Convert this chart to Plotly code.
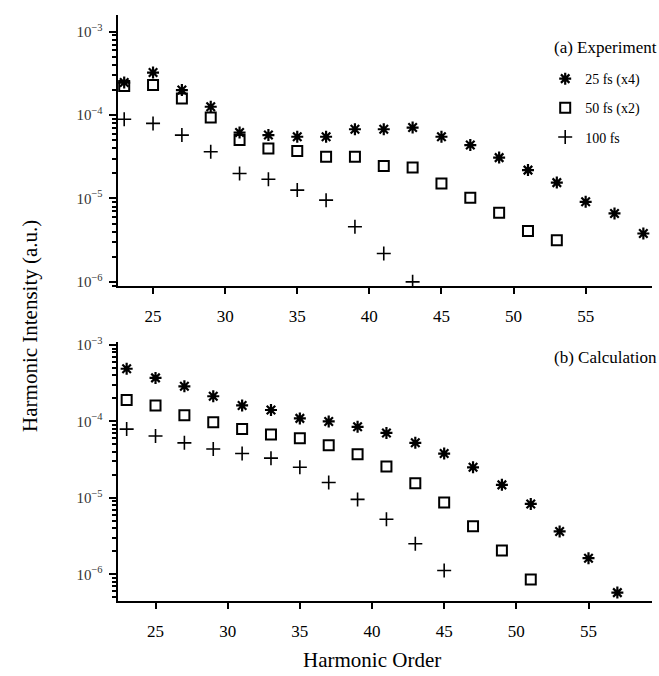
import plotly.graph_objects as go

orders_exp_25 = [23, 25, 27, 29, 31, 33, 35, 37, 39, 41, 43, 45, 47, 49, 51, 53, 55, 57, 59]
log_exp_25 = [-3.61, -3.49, -3.70, -3.90, -4.21, -4.24, -4.26, -4.26, -4.17, -4.17, -4.15,
              -4.26, -4.36, -4.51, -4.66, -4.81, -5.04, -5.18, -5.42]
orders_exp_50 = [23, 25, 27, 29, 31, 33, 35, 37, 39, 41, 43, 45, 47, 49, 51, 53]
log_exp_50 = [-3.65, -3.64, -3.80, -4.03, -4.30, -4.40, -4.43, -4.50, -4.50, -4.61, -4.63,
              -4.82, -4.99, -5.17, -5.39, -5.50]
orders_exp_100 = [23, 25, 27, 29, 31, 33, 35, 37, 39, 41, 43]
log_exp_100 = [-4.05, -4.10, -4.24, -4.44, -4.70, -4.77, -4.90, -5.02, -5.34, -5.66, -6.00]

orders_calc_25 = [23, 25, 27, 29, 31, 33, 35, 37, 39, 41, 43, 45, 47, 49, 51, 53, 55, 57]
log_calc_25 = [-3.31, -3.43, -3.54, -3.67, -3.79, -3.85, -3.96, -4.00, -4.07, -4.15, -4.28,
               -4.42, -4.60, -4.83, -5.08, -5.44, -5.79, -6.24]
orders_calc_50 = [23, 25, 27, 29, 31, 33, 35, 37, 39, 41, 43, 45, 47, 49, 51]
log_calc_50 = [-3.72, -3.79, -3.92, -4.01, -4.10, -4.17, -4.22, -4.31, -4.43, -4.59, -4.81,
               -5.06, -5.37, -5.69, -6.07]
orders_calc_100 = [23, 25, 27, 29, 31, 33, 35, 37, 39, 41, 43, 45]
log_calc_100 = [-4.10, -4.19, -4.28, -4.36, -4.42, -4.48, -4.60, -4.80, -5.02, -5.28, -5.60, -5.95]

labels = ["25 fs (x4)", "50 fs (x2)", "100 fs"]
symbols = ["asterisk-open", "square-open", "cross-thin-open"]
sizes = [10, 10, 10]
widths = [2.2, 2, 1.6]

SERIF = "Liberation Serif, Times New Roman, serif"

fig = go.Figure()

def add(xs, logs, i, xa, ya, show):
    fig.add_trace(go.Scatter(
        x=xs, y=[10 ** v for v in logs], mode="markers", name=labels[i],
        legendgroup="g%d" % i,
        marker=dict(symbol=symbols[i], size=sizes[i], color="black",
                    line=dict(color="black", width=widths[i])),
        xaxis=xa, yaxis=ya, showlegend=show))

add(orders_exp_25, log_exp_25, 0, "x", "y", True)
add(orders_exp_50, log_exp_50, 1, "x", "y", True)
add(orders_exp_100, log_exp_100, 2, "x", "y", True)
add(orders_calc_25, log_calc_25, 0, "x2", "y2", False)
add(orders_calc_50, log_calc_50, 1, "x2", "y2", False)
add(orders_calc_100, log_calc_100, 2, "x2", "y2", False)

xcommon = dict(showline=True, linecolor="black", linewidth=2, ticks="outside",
               ticklen=6, tickwidth=2, tickcolor="black", showgrid=False, zeroline=False,
               tickvals=[25, 30, 35, 40, 45, 50, 55], ticklabelstandoff=8,
               tickfont=dict(family=SERIF, size=17, color="black"))
ycommon = dict(type="log", showline=True, linecolor="black", linewidth=2, ticks="outside",
               ticklen=7, tickwidth=1.5, tickcolor="black", showgrid=False, zeroline=False,
               dtick=1, exponentformat="power", ticklabelstandoff=4,
               minor=dict(ticks="outside", ticklen=4, tickcolor="black", dtick="D1", showgrid=False),
               tickfont=dict(family=SERIF, size=12, color="#333"))

fig.update_layout(
    width=659, height=676,
    margin=dict(l=118, r=7, t=15, b=75),
    paper_bgcolor="white", plot_bgcolor="white",
    xaxis=dict(domain=[0, 1], anchor="y", range=[22.57, 59.6], **xcommon),
    yaxis=dict(domain=[0.5375, 1], anchor="x", range=[-6.05, -2.80], **ycommon),
    xaxis2=dict(domain=[0, 1], anchor="y2", range=[22.4, 59.4], **xcommon),
    yaxis2=dict(domain=[0, 0.442], anchor="x2", range=[-6.35, -2.96], **ycommon),
    legend=dict(x=0.80, y=0.918, xanchor="left", yanchor="top",
                font=dict(family=SERIF, size=14, color="black"),
                bgcolor="rgba(0,0,0,0)", tracegroupgap=8),
    annotations=[
        dict(text="(a) Experiment", xref="paper", yref="paper", x=1.013, y=0.945,
             xanchor="right", yanchor="middle", showarrow=False,
             font=dict(family=SERIF, size=17, color="black")),
        dict(text="(b) Calculation", xref="paper", yref="paper", x=1.013, y=0.416,
             xanchor="right", yanchor="middle", showarrow=False,
             font=dict(family=SERIF, size=17, color="black")),
        dict(text="Harmonic Intensity (a.u.)", xref="paper", yref="paper",
             x=-0.166, y=0.47, xanchor="center", yanchor="middle", textangle=-90,
             showarrow=False, font=dict(family=SERIF, size=21, color="black")),
        dict(text="Harmonic Order", xref="paper", yref="paper",
             x=0.475, y=-0.10, xanchor="center", yanchor="middle",
             showarrow=False, font=dict(family=SERIF, size=21, color="black")),
    ],
)

fig.write_html("out.html", config={"displayModeBar": False},
               post_script="document.body.style.margin='0';document.body.style.overflow='hidden';")
